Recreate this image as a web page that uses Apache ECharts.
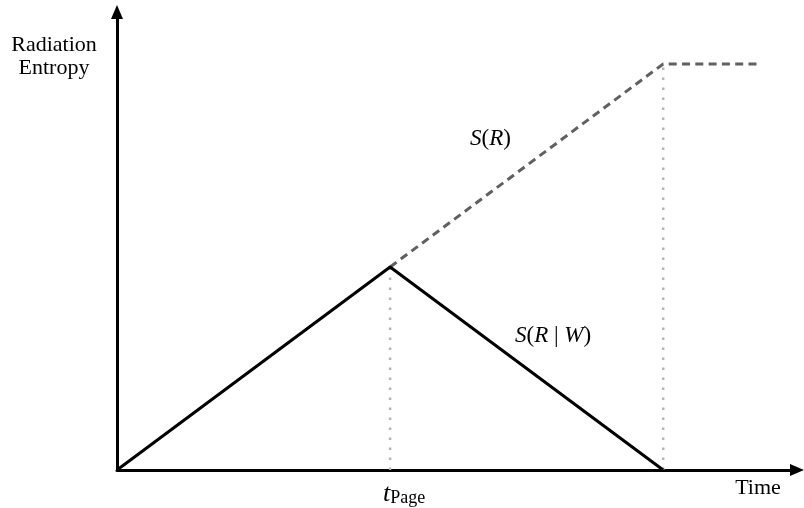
<!DOCTYPE html>
<html>
<head>
<meta charset="utf-8">
<title>Radiation Entropy</title>
<script src="https://cdn.jsdelivr.net/npm/echarts@6/dist/echarts.min.js"></script>
<style>
    html, body { margin: 0; padding: 0; background: #fff; }
    #chart { width: 804px; height: 508px; }
</style>
</head>
<body>
<div id="chart"></div>
<script>
// S(R|W): rises until the Page time, then falls back to zero
const solidX = [0, 1, 2];
const solidY = [0, 1, 0];
// S(R): keeps rising after the Page time, then flat
const dashX = [1, 2, 2.36];
const dashY = [1, 2, 2];
// dotted guides
const guidePageX = [1, 1];
const guidePageY = [0, 1];
const guideEndX = [2, 2];
const guideEndY = [0, 2];
// x tick label
const xTicks = [1];

const serif = '"Liberation Serif", "Times New Roman", serif';

function pairs(xs, ys) {
    return xs.map(function (x, i) { return [x, ys[i]]; });
}

function initChart() {
    let myChart = echarts.init(document.getElementById('chart'));
    let option = {
        animation: false,
        grid: {
            left: 117,
            right: 7,
            top: 12,
            bottom: 38
        },
        xAxis: {
            type: 'value',
            min: 0,
            max: 2.49,
            splitLine: { show: false },
            axisTick: { show: false },
            axisLine: {
                symbol: ['none', 'triangle'],
                symbolSize: [12, 14],
                lineStyle: { color: '#000', width: 3 }
            },
            axisLabel: {
                customValues: xTicks,
                margin: 11,
                align: 'center',
                padding: [0, 0, 0, 28],
                formatter: function () { return '{t|t}{p|Page}'; },
                rich: {
                    t: { fontFamily: serif, fontSize: 26, lineHeight: 26, fontStyle: 'italic', color: '#000' },
                    p: { fontFamily: serif, fontSize: 18, lineHeight: 22, color: '#000', verticalAlign: 'bottom' }
                }
            }
        },
        yAxis: {
            type: 'value',
            min: 0,
            max: 2.256,
            splitLine: { show: false },
            axisTick: { show: false },
            axisLabel: { show: false },
            axisLine: {
                symbol: ['none', 'triangle'],
                symbolSize: [12, 14],
                lineStyle: { color: '#000', width: 3 }
            }
        },
        graphic: [
            {
                type: 'text', x: 54, y: 57,
                style: {
                    text: 'Radiation\nEntropy', fontFamily: serif, fontSize: 22, lineHeight: 23,
                    fill: '#000', align: 'center', verticalAlign: 'middle'
                }
            },
            {
                type: 'text', x: 758, y: 488,
                style: {
                    text: 'Time', fontFamily: serif, fontSize: 22,
                    fill: '#000', align: 'center', verticalAlign: 'middle'
                }
            },
            {
                type: 'text', x: 470, y: 139,
                style: {
                    text: '{i|S}({i|R})', fontFamily: serif, fontSize: 23, fill: '#000',
                    align: 'left', verticalAlign: 'middle',
                    rich: { i: { fontFamily: serif, fontSize: 23, fontStyle: 'italic', fill: '#000' } }
                }
            },
            {
                type: 'text', x: 515, y: 336,
                style: {
                    text: '{i|S}({i|R} | {i|W})', fontFamily: serif, fontSize: 23, fill: '#000',
                    align: 'left', verticalAlign: 'middle',
                    rich: { i: { fontFamily: serif, fontSize: 23, fontStyle: 'italic', fill: '#000' } }
                }
            }
        ],
        series: [
            {
                type: 'line', data: pairs(guidePageX, guidePageY), symbol: 'none', silent: true,
                lineStyle: { color: '#b4b4b4', width: 2.5, type: [2.5, 7.5] }
            },
            {
                type: 'line', data: pairs(guideEndX, guideEndY), symbol: 'none', silent: true,
                lineStyle: { color: '#b4b4b4', width: 2.5, type: [2.5, 7.5] }
            },
            {
                type: 'line', data: pairs(dashX, dashY), symbol: 'none', silent: true,
                lineStyle: { color: '#606060', width: 3, type: [8, 5.3] }
            },
            {
                type: 'line', data: pairs(solidX, solidY), symbol: 'none', silent: true,
                lineStyle: { color: '#000', width: 3 }
            }
        ]
    };
    myChart.setOption(option);
    return myChart;
}

initChart();
</script>
</body>
</html>
